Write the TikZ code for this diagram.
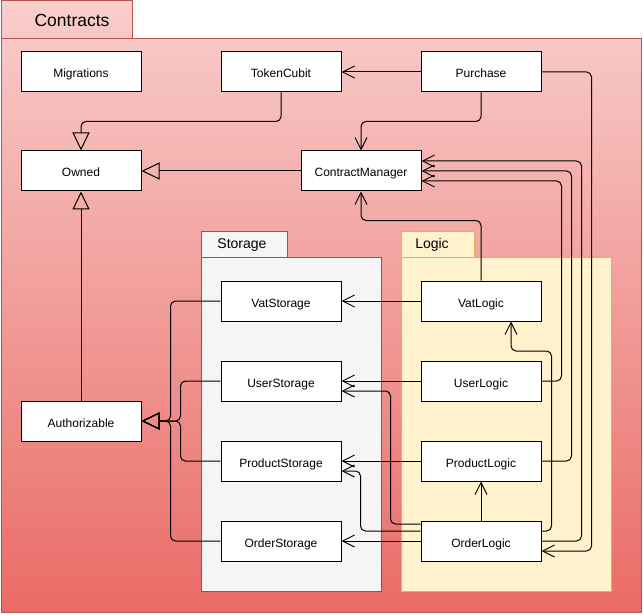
\documentclass[tikz,border=0pt]{standalone}
\usepackage{fontspec}
\setmainfont{Liberation Sans}
\usetikzlibrary{arrows.meta,calc}
\definecolor{redtop}{HTML}{F8CECC}
\definecolor{redbot}{HTML}{EA6B66}
\definecolor{redline}{HTML}{B85450}
\definecolor{grayfill}{HTML}{F5F5F5}
\definecolor{grayline}{HTML}{666666}
\definecolor{yelfill}{HTML}{FFF2CC}
\definecolor{yelline}{HTML}{D6B656}
\begin{document}
\begin{tikzpicture}[x=1pt,y=-1pt,line width=1pt,
  box/.style={draw=black,fill=white,minimum width=120pt,minimum height=40pt,inner sep=0pt,text height=12pt,text depth=0pt,font=\fontsize{12}{14}\selectfont},
  conn/.style={draw=black,line width=1pt,rounded corners=5pt},
  dep/.style={conn,-{Straight Barb[length=12pt,width=12pt,line width=1pt]}},
  inh/.style={conn,-{Triangle[open,length=18pt,width=17pt,line width=1pt]}},
  tablabel/.style={font=\fontsize{14}{16}\selectfont,inner sep=0pt,anchor=base}]
\useasboundingbox (0,0) rectangle (643,615);
% Contracts package
\shade[top color=redtop,bottom color=redbot] (1,1) -- (132,1) -- (132,39) -- (641,39) -- (641,612) -- (1,612) -- cycle;
\draw[redline] (1,1) rectangle (132,39);
\draw[redline] (1,39) rectangle (641,612);
\node[font=\fontsize{17.5}{20}\selectfont,inner sep=0pt,anchor=base] (ttl) at (72,26.7) {Contracts};
% Storage package
\draw[grayline,fill=grayfill] (201,231) rectangle (287,257);
\draw[grayline,fill=grayfill] (201,257) rectangle (381,591);
\node[tablabel] (stl) at (242,248.7) {Storage};
% Logic package
\draw[yelline,fill=yelfill] (401,231) rectangle (474,257);
\draw[yelline,fill=yelfill] (401,257) rectangle (611,591);
\node[tablabel] (lgl) at (432,248.7) {Logic};
% classes
\node[box] (MI) at (81,72) {Migrations};
\node[box] (TC) at (281,72) {TokenCubit};
\node[box] (PU) at (481,72) {Purchase};
\node[box] (OW) at (81,171) {Owned};
\node[box] (CM) at (361,171) {ContractManager};
\node[box] (AU) at (81,421) {Authorizable};
\node[box] (VS) at (281,301) {VatStorage};
\node[box] (US) at (281,381) {UserStorage};
\node[box] (PS) at (281,461) {ProductStorage};
\node[box] (OS) at (281,541) {OrderStorage};
\node[box] (VL) at (481,301) {VatLogic};
\node[box] (UL) at (481,381) {UserLogic};
\node[box] (PL) at (481,461) {ProductLogic};
\node[box] (OL) at (481,541) {OrderLogic};
% inheritance
\draw[inh] (TC.south) -- ++(0,29) -| (OW.north);
\draw[inh] (CM.west) -- (OW.east);
\draw[inh] (AU.north) -- (OW.south);
\draw[inh] (VS.west) -- ++(-50,0) |- (AU.east);
\draw[inh] (OS.west) -- ++(-50,0) |- (AU.east);
\draw[inh] (US.west) -- ++(-40,0) |- (AU.east);
\draw[inh] (PS.west) -- ++(-40,0) |- (AU.east);
% dependencies
\draw[dep] (PU.west) -- (TC.east);
\draw[dep] (PU.south) -- ++(0,29) -| (CM.north);
\draw[dep] (PU.east) -- ++(50,0) |- ([yshift=-10pt]OL.east);
\draw[dep] (VL.north) -- ++(0,-60) -| (CM.south);
\draw[dep] (UL.east) -- ++(20,0) |- ([yshift=-10pt]CM.east);
\draw[dep] (PL.east) -- ++(30,0) |- (CM.east);
\draw[dep] (OL.east) -- ++(40,0) |- ([yshift=10pt]CM.east);
\draw[dep] ([yshift=10pt]OL.east) -- ++(10,0) -- ++(0,-180) -| ([xshift=30pt]VL.south);
\draw[dep] (VL.west) -- (VS.east);
\draw[dep] (UL.west) -- (US.east);
\draw[dep] (PL.west) -- (PS.east);
\draw[dep] (OL.west) -- (OS.east);
\draw[dep] (OL.north) -- (PL.south);
\draw[dep] ([yshift=17pt]OL.west) -- ++(-30,0) |- ([yshift=-10pt]US.east);
\draw[dep] ([yshift=10pt]OL.west) -- ++(-60,0) |- ([yshift=-10pt]PS.east);
\end{tikzpicture}
\end{document}
